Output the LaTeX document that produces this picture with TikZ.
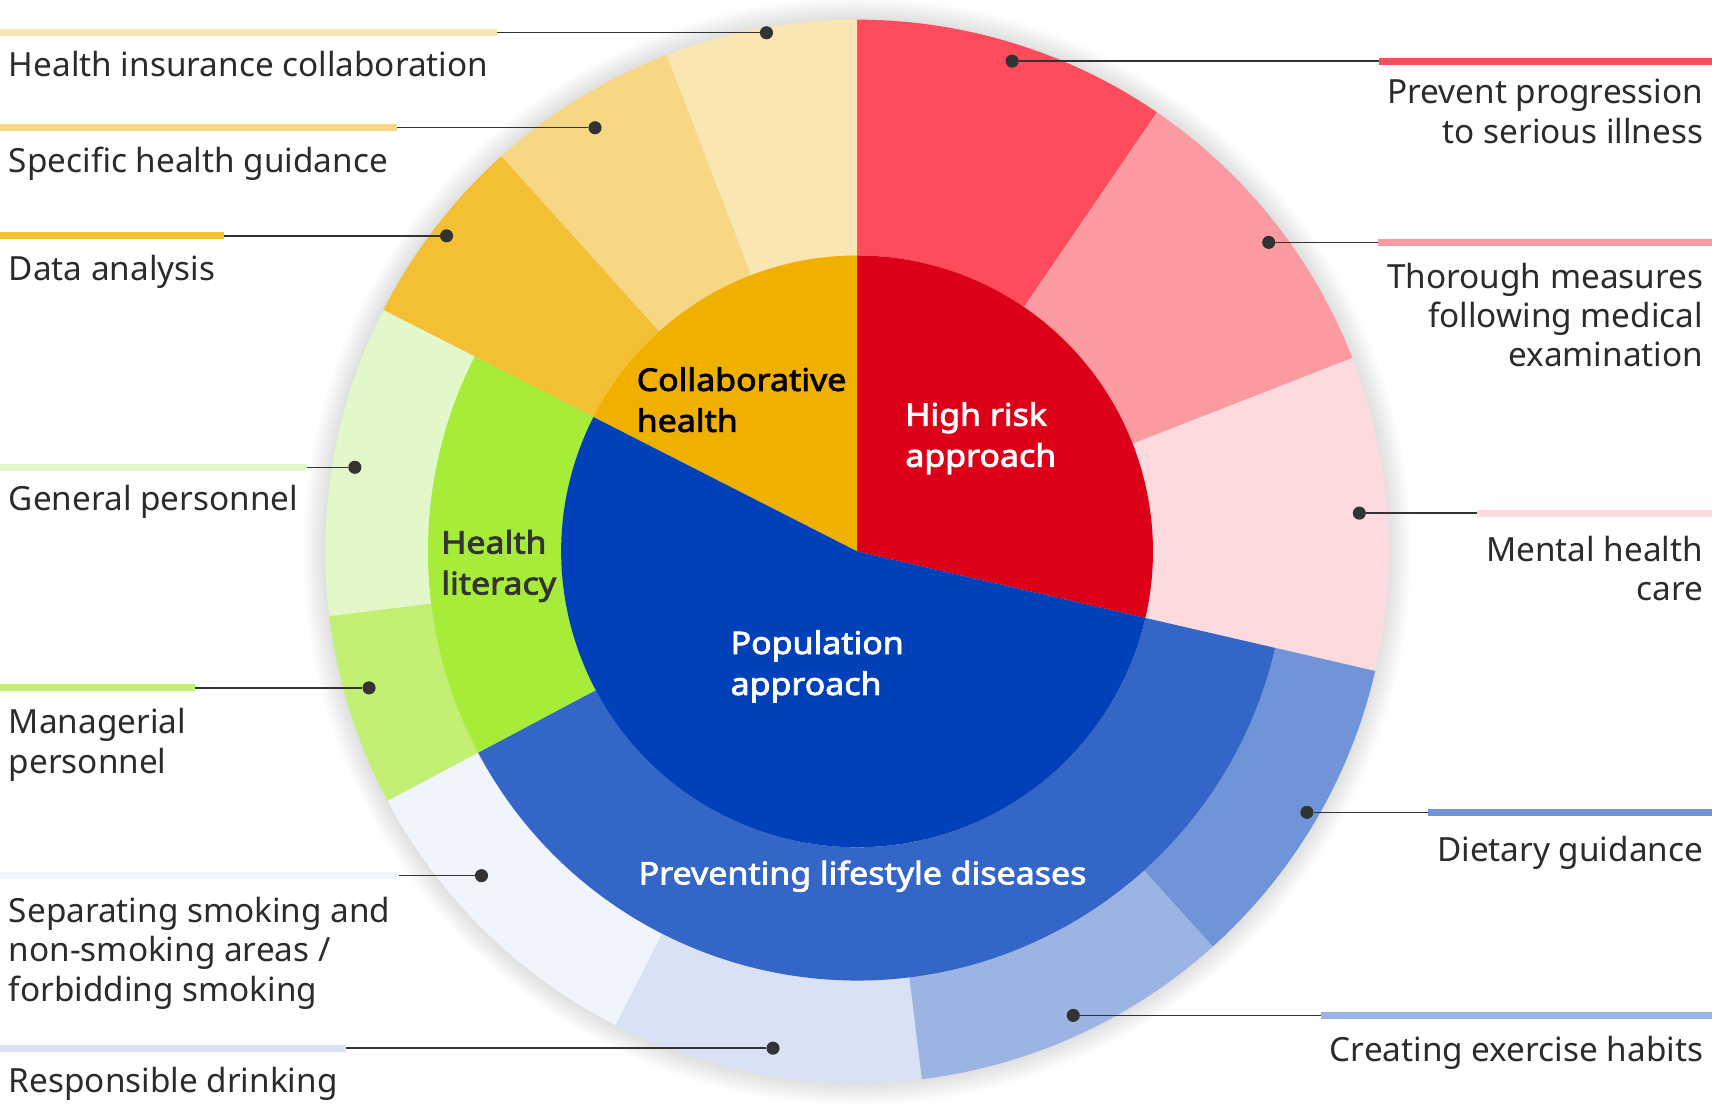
\documentclass[tikz,border=0pt]{standalone}
\usepackage{fontspec}
\setmainfont{Noto Sans}[BoldFont={Noto Sans}, BoldFeatures={FakeBold=2.5, FakeStretch=1.09}]

\definecolor{txtgray}{HTML}{2B2B2B}
\definecolor{leadgray}{HTML}{333333}
% high risk approach
\definecolor{hrRed}{HTML}{DC0018}
\definecolor{ppRed}{HTML}{FF4C5D}
\definecolor{tmPink}{HTML}{FC9AA1}
\definecolor{mhPink}{HTML}{FDDADE}
% collaborative health
\definecolor{chAmber}{HTML}{F0B000}
\definecolor{hicYellow}{HTML}{FAE6B2}
\definecolor{shgYellow}{HTML}{F7D784}
\definecolor{daYellow}{HTML}{F3BF33}
% population approach
\definecolor{paBlue}{HTML}{0041BA}
\definecolor{pldBlue}{HTML}{3366C7}
\definecolor{dgBlue}{HTML}{6F95D8}
\definecolor{ceBlue}{HTML}{9BB4E3}
\definecolor{rdBlue}{HTML}{D9E2F4}
\definecolor{ssBlue}{HTML}{F0F4FB}
\definecolor{hlGreen}{HTML}{A6EC39}
\definecolor{gpGreen}{HTML}{E3F8C9}
\definecolor{mpGreen}{HTML}{C3EF73}

% colour, from, to, inner r, outer r
\newcommand{\ringpart}[5]{%
  \fill[#1] (#2:#4) -- (#2:#5) arc[start angle=#2, end angle=#3, radius=#5]
    -- (#3:#4) arc[start angle=#3, end angle=#2, radius=#4] -- cycle;}
% colour, from, to, r
\newcommand{\piepart}[4]{%
  \fill[#1] (0,0) -- (#2:#4) arc[start angle=#2, end angle=#3, radius=#4] -- cycle;}

\tikzset{
  lbl/.style={font=\fontsize{30.5}{36}\selectfont, text=txtgray, inner xsep=8pt, inner ysep=0pt},
  lblL/.style={lbl, anchor=base west, align=left},
  lblR/.style={lbl, anchor=base east, align=right},
  core/.style={font=\fontsize{28.5}{37.5}\selectfont\bfseries, inner sep=0pt, align=left, anchor=base west},
  bar/.style={line width=6.5pt},
  lead/.style={draw=leadgray, line width=1.3pt},
  dot/.style={circle, fill=leadgray, inner sep=0pt, minimum size=12pt},
}

\begin{document}
\begin{tikzpicture}[x=1pt,y=1pt]
\useasboundingbox (-785,-515.3) rectangle (783,505);

% soft shadow
\foreach \s in {20,18,...,2}
  \fill[black, opacity=0.012] (0,0) circle ({487+\s});

% outer ring
\ringpart{ppRed}{90}{55.67}{271}{487}
\ringpart{tmPink}{55.67}{21.33}{271}{487}
\ringpart{mhPink}{21.33}{-13}{271}{487}
\ringpart{hicYellow}{90}{111}{271}{487}
\ringpart{shgYellow}{111}{132}{271}{487}
\ringpart{daYellow}{132}{153}{271}{487}
\ringpart{gpGreen}{153}{187}{393}{487}
\ringpart{mpGreen}{187}{208}{393}{487}
\ringpart{ssBlue}{208}{243}{393}{487}
\ringpart{rdBlue}{243}{277}{393}{487}
\ringpart{ceBlue}{277}{312}{393}{487}
\ringpart{dgBlue}{312}{347}{393}{487}
% middle ring
\ringpart{hlGreen}{153}{208}{271}{393}
\ringpart{pldBlue}{208}{347}{271}{393}
% core
\piepart{hrRed}{-13}{90}{271}
\piepart{chAmber}{90}{153}{271}
\piepart{paBlue}{153}{347}{271}

% base of a multi-line node = last line
\node[core, text=black] (tCH) at (-202,109.5) {Collaborative\\health};
\node[core, text=white] (tHR) at (44,77.5) {High risk\\approach};
\node[core, text=leadgray] (tHL) at (-381,-39.5) {Health\\literacy};
\node[core, text=white] (tPA) at (-116,-131.5) {Population\\approach};
\node[core, text=white, anchor=base] (tPLD) at (5,-305) {Preventing lifestyle diseases};

% left labels
\coordinate (bHIC) at (-785,475);
\node[lblL] (lHIC) at (-785,435) {Health insurance collaboration};
\node[dot] (dHIC) at (-83,475) {};
\draw[bar, hicYellow] (bHIC) -- (bHIC -| lHIC.east);
\draw[lead] (bHIC -| lHIC.east) -- (dHIC);

\coordinate (bSHG) at (-785,388);
\node[lblL] (lSHG) at (-785,347) {Specific health guidance};
\node[dot] (dSHG) at (-240,388) {};
\draw[bar, shgYellow] (bSHG) -- (bSHG -| lSHG.east);
\draw[lead] (bSHG -| lSHG.east) -- (dSHG);

\coordinate (bDA) at (-785,289);
\node[lblL] (lDA) at (-785,248) {Data analysis};
\node[dot] (dDA) at (-376,289) {};
\draw[bar, daYellow] (bDA) -- (bDA -| lDA.east);
\draw[lead] (bDA -| lDA.east) -- (dDA);

\coordinate (bGP) at (-785,77);
\node[lblL] (lGP) at (-785,37) {General personnel};
\node[dot] (dGP) at (-460,77) {};
\draw[bar, gpGreen] (bGP) -- (bGP -| lGP.east);
\draw[lead] (bGP -| lGP.east) -- (dGP);

\coordinate (bMP) at (-785,-125);
\node[lblL] (lMP) at (-785,-203) {Managerial\\personnel};
\node[dot] (dMP) at (-447,-125) {};
\draw[bar, mpGreen] (bMP) -- (bMP -| lMP.east);
\draw[lead] (bMP -| lMP.east) -- (dMP);

\coordinate (bSS) at (-785,-297);
\node[lblL] (lSS) at (-785,-412) {Separating smoking and\\non-smoking areas /\\forbidding smoking};
\node[dot] (dSS) at (-344,-297) {};
\draw[bar, ssBlue] (bSS) -- (bSS -| lSS.east);
\draw[lead] (bSS -| lSS.east) -- (dSS);

\coordinate (bRD) at (-785,-455);
\node[lblL] (lRD) at (-785,-496) {Responsible drinking};
\node[dot] (dRD) at (-77,-455) {};
\draw[bar, rdBlue] (bRD) -- (bRD -| lRD.east);
\draw[lead] (bRD -| lRD.east) -- (dRD);

% right labels
\coordinate (bPP) at (783,449);
\node[lblR] (lPP) at (783,374) {Prevent progression\\to serious illness};
\node[dot] (dPP) at (142,449) {};
\draw[bar, ppRed] (bPP -| lPP.west) -- (bPP);
\draw[lead] (dPP) -- (bPP -| lPP.west);

\coordinate (bTM) at (783,283);
\node[lblR] (lTM) at (783,169) {Thorough measures\\following medical\\examination};
\node[dot] (dTM) at (377,283) {};
\draw[bar, tmPink] (bTM -| lTM.west) -- (bTM);
\draw[lead] (dTM) -- (bTM -| lTM.west);

\coordinate (bMH) at (783,35);
\node[lblR] (lMH) at (783,-45) {Mental health\\care};
\node[dot] (dMH) at (460,35) {};
\draw[bar, mhPink] (bMH -| lMH.west) -- (bMH);
\draw[lead] (dMH) -- (bMH -| lMH.west);

\coordinate (bDG) at (783,-239);
\node[lblR] (lDG) at (783,-284) {Dietary guidance};
\node[dot] (dDG) at (412,-239) {};
\draw[bar, dgBlue] (bDG -| lDG.west) -- (bDG);
\draw[lead] (dDG) -- (bDG -| lDG.west);

\coordinate (bCE) at (783,-425);
\node[lblR] (lCE) at (783,-467) {Creating exercise habits};
\node[dot] (dCE) at (198,-425) {};
\draw[bar, ceBlue] (bCE -| lCE.west) -- (bCE);
\draw[lead] (dCE) -- (bCE -| lCE.west);
\end{tikzpicture}
\end{document}
